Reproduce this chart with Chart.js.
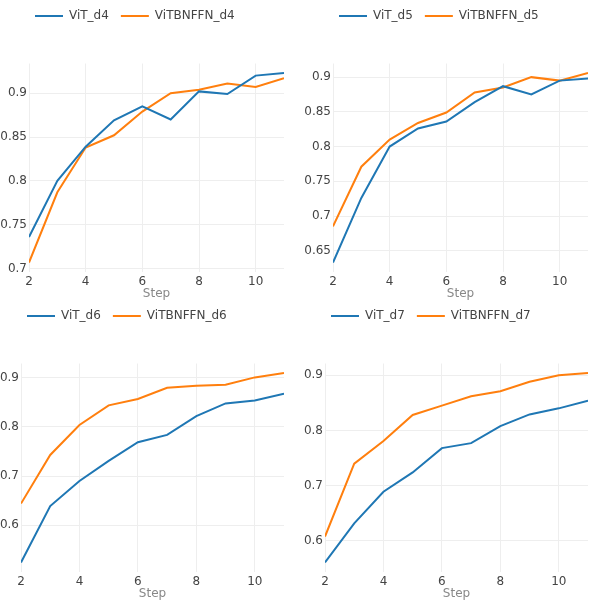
<!DOCTYPE html>
<html>
<head>
<meta charset="utf-8">
<script src="https://cdn.jsdelivr.net/npm/chart.js@4.4.1/dist/chart.umd.min.js"></script>
<style>
  body { margin: 0; background: #fff; }
  #grid { display: grid; grid-template-columns: 304px 304px; grid-template-rows: 300px 300px; width: 608px; }
  .cell { position: relative; width: 304px; height: 300px; }
</style>
</head>
<body>
<div id="grid">
  <div class="cell"><canvas id="c4"></canvas></div>
  <div class="cell"><canvas id="c5"></canvas></div>
  <div class="cell"><canvas id="c6"></canvas></div>
  <div class="cell"><canvas id="c7"></canvas></div>
</div>
<script>
// Steps on the x axis
const steps = [2, 3, 4, 5, 6, 7, 8, 9, 10, 11];
const xTicks = [2, 4, 6, 8, 10];

// Accuracy per step
const vitD4 = [0.736, 0.800, 0.839, 0.869, 0.885, 0.870, 0.902, 0.899, 0.920, 0.923];
const bnD4  = [0.707, 0.787, 0.838, 0.852, 0.879, 0.900, 0.904, 0.911, 0.907, 0.917];
const vitD5 = [0.633, 0.726, 0.800, 0.826, 0.836, 0.864, 0.887, 0.875, 0.895, 0.898];
const bnD5  = [0.685, 0.771, 0.810, 0.834, 0.849, 0.878, 0.885, 0.900, 0.895, 0.906];
const vitD6 = [0.524, 0.639, 0.690, 0.731, 0.769, 0.784, 0.822, 0.848, 0.854, 0.868];
const bnD6  = [0.644, 0.743, 0.804, 0.844, 0.857, 0.880, 0.884, 0.886, 0.901, 0.910];
const vitD7 = [0.561, 0.632, 0.689, 0.724, 0.768, 0.777, 0.808, 0.829, 0.840, 0.854];
const bnD7  = [0.608, 0.740, 0.781, 0.828, 0.845, 0.862, 0.871, 0.888, 0.900, 0.904];

// y tick labels per panel
const yTicksD4 = [0.7, 0.75, 0.8, 0.85, 0.9];
const yTicksD5 = [0.65, 0.7, 0.75, 0.8, 0.85, 0.9];
const yTicksD6 = [0.6, 0.7, 0.8, 0.9];
const yTicksD7 = [0.6, 0.7, 0.8, 0.9];

const BLUE = '#1f77b4';
const ORANGE = '#ff7f0e';
const FONT = "'DejaVu Sans', Verdana, sans-serif";

// put the legend just inside the plot's left edge, near the top
const legendShift = {
    id: 'legendShift',
    afterLayout(chart) {
        const lg = chart.legend;
        const p = lg.options.labels.padding;
        const dx = chart.chartArea.left + 6 - p - lg.left;
        lg.left += dx;
        lg.right += dx;
        const h = lg.bottom - lg.top;
        lg.top = 10 - p;
        lg.bottom = lg.top + h;
    }
};

function makeChart(id, names, vit, bn, yTicks, leftWidth) {
    const all = vit.concat(bn);
    const lo = Math.min(...all), hi = Math.max(...all);
    const pad = (hi - lo) * 0.05;

    new Chart(document.getElementById(id), {
        type: 'line',
        data: {
            datasets: [
                { label: names[0], data: steps.map((s, i) => ({ x: s, y: vit[i] })), borderColor: BLUE, backgroundColor: BLUE },
                { label: names[1], data: steps.map((s, i) => ({ x: s, y: bn[i] })), borderColor: ORANGE, backgroundColor: ORANGE }
            ]
        },
        options: {
            responsive: true,
            maintainAspectRatio: false,
            animation: false,
            elements: {
                line: { borderWidth: 2, tension: 0 },
                point: { radius: 0 }
            },
            layout: { padding: { top: 29.5, right: 20, bottom: 1, left: 0 } },
            plugins: {
                tooltip: { enabled: false },
                legend: {
                    position: 'top',
                    align: 'start',
                    labels: {
                        boxWidth: 28,
                        boxHeight: 2,
                        padding: 12,
                        color: '#444',
                        font: { family: FONT, size: 12 },
                        generateLabels(chart) {
                            return chart.data.datasets.map((ds, i) => ({
                                text: ds.label,
                                fillStyle: ds.borderColor,
                                strokeStyle: ds.borderColor,
                                lineWidth: 0,
                                fontColor: '#444',
                                datasetIndex: i
                            }));
                        }
                    }
                }
            },
            scales: {
                x: {
                    type: 'linear',
                    min: 2,
                    max: 11,
                    afterBuildTicks: (scale) => { scale.ticks = xTicks.map(v => ({ value: v })); },
                    grid: { color: '#eee', drawTicks: false },
                    border: { display: false },
                    ticks: {
                        padding: 4,
                        maxRotation: 0,
                        autoSkip: false,
                        color: '#444',
                        font: { family: FONT, size: 12, lineHeight: 1 }
                    },
                    title: {
                        display: true,
                        text: 'Step',
                        color: '#888',
                        padding: { top: -4, bottom: -1 },
                        font: { family: FONT, size: 12, lineHeight: 1 }
                    }
                },
                y: {
                    min: lo - pad,
                    max: hi + pad,
                    afterBuildTicks: (scale) => { scale.ticks = yTicks.map(v => ({ value: v })); },
                    afterFit: (scale) => { scale.width = leftWidth; },
                    grid: { color: '#eee', drawTicks: false },
                    border: { display: false },
                    ticks: {
                        padding: 2,
                        color: '#444',
                        font: { family: FONT, size: 12 },
                        callback: (v) => String(Number(v.toFixed(2)))
                    }
                }
            }
        },
        plugins: [legendShift]
    });
}

makeChart('c4', ['ViT_d4', 'ViTBNFFN_d4'], vitD4, bnD4, yTicksD4, 29);
makeChart('c5', ['ViT_d5', 'ViTBNFFN_d5'], vitD5, bnD5, yTicksD5, 29);
makeChart('c6', ['ViT_d6', 'ViTBNFFN_d6'], vitD6, bnD6, yTicksD6, 21);
makeChart('c7', ['ViT_d7', 'ViTBNFFN_d7'], vitD7, bnD7, yTicksD7, 21);
</script>
</body>
</html>
